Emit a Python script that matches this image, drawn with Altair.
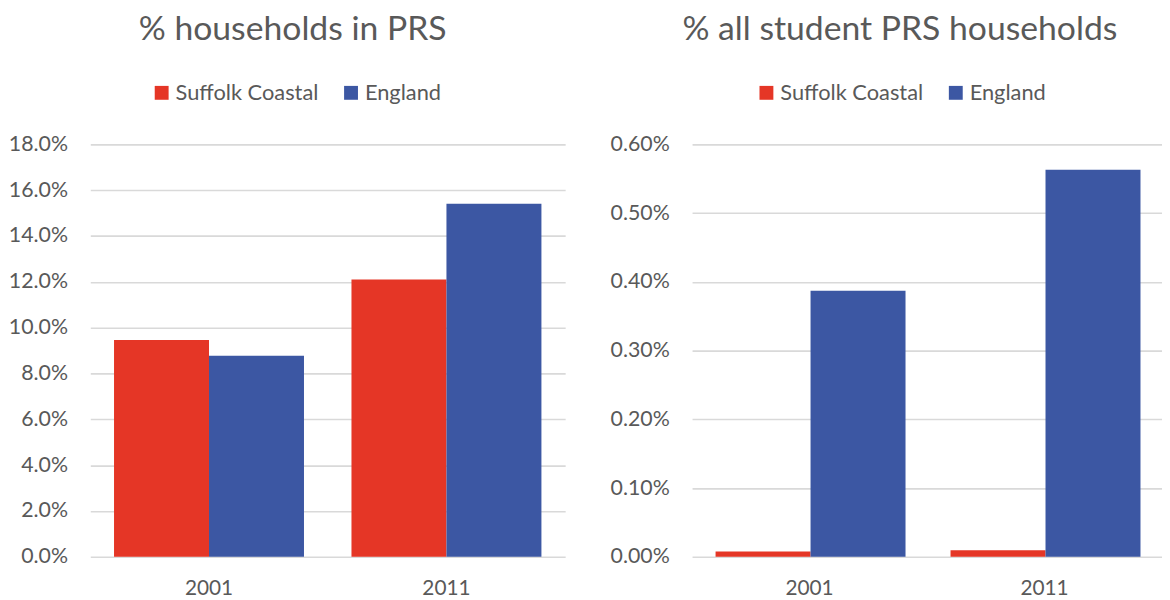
import altair as alt
import pandas as pd

years = ["2001", "2011"]
series = ["Suffolk Coastal", "England"]
prs_suffolk = [0.0946, 0.1210]
prs_england = [0.0878, 0.1541]
student_suffolk = [0.000077, 0.000096]
student_england = [0.00387, 0.00563]
colors = ["#E53626", "#3C57A3"]

FONT = "Lato"
GRAY = "#595959"


def make_df(a, b):
    rows = []
    for i, y in enumerate(years):
        rows.append({"year": y, "series": series[0], "value": a[i]})
        rows.append({"year": y, "series": series[1], "value": b[i]})
    return pd.DataFrame(rows)


def panel(df, title, fmt, dmax, step, width, title_dx, legend_x):
    n = int(round(dmax / step))
    ticks = [round(i * step, 6) for i in range(n + 1)]
    return alt.Chart(
        df,
        title=alt.Title(title, fontSize=34, font=FONT, color=GRAY,
                        fontWeight="normal", anchor="middle", frame="bounds",
                        offset=35, dx=title_dx),
    ).mark_bar().encode(
        x=alt.X("year:N", sort=years,
                scale=alt.Scale(paddingInner=0.2, paddingOuter=0.1),
                axis=alt.Axis(title=None, labelAngle=0, ticks=False, tickSize=0,
                              domain=False, grid=False, labelFontSize=21,
                              labelColor=GRAY, labelFont=FONT, labelPadding=21)),
        xOffset=alt.XOffset("series:N", sort=series,
                            scale=alt.Scale(paddingInner=0, paddingOuter=0)),
        y=alt.Y("value:Q", scale=alt.Scale(domain=[0, dmax], nice=False),
                axis=alt.Axis(title=None, format=fmt, values=ticks, ticks=False,
                              tickSize=0, domain=False, gridColor="#D9D9D9",
                              gridWidth=1.6, labelFontSize=21.5, labelColor=GRAY,
                              labelFont=FONT, labelPadding=23)),
        color=alt.Color("series:N", sort=series,
                        scale=alt.Scale(domain=series, range=colors),
                        legend=alt.Legend(title=None, orient="none",
                                          legendX=legend_x, legendY=-63,
                                          direction="horizontal",
                                          symbolType="square", symbolSize=196,
                                          symbolStrokeWidth=0, labelFontSize=22,
                                          labelFont=FONT, labelColor=GRAY,
                                          columnPadding=21, labelOffset=3)),
    ).properties(width=width, height=416)


left = panel(make_df(prs_suffolk, prs_england), "% households in PRS",
             ".1%", 0.18, 0.02, 479, 6, 61)
right = panel(make_df(student_suffolk, student_england),
              "% all student PRS households", ".2%", 0.006, 0.001, 474, 14, 64)

chart = alt.hconcat(left, right, spacing=45).resolve_scale(
    color="independent", x="independent", y="independent"
).resolve_legend(color="independent").configure_view(stroke=None).properties(
    padding={"left": 0, "top": 3, "right": 0, "bottom": 0}
)

chart.save("out.html", embed_options={"renderer": "svg", "actions": False})
